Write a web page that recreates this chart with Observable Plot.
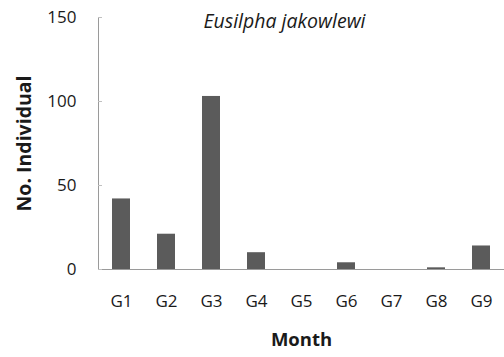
<!DOCTYPE html>
<html>
<head>
<meta charset="utf-8">
<script src="https://cdn.jsdelivr.net/npm/d3@7"></script>
<script src="https://cdn.jsdelivr.net/npm/@observablehq/plot@0.6"></script>
<style>
  html, body { margin: 0; padding: 0; background: #fff; }
  svg { display: block; }
</style>
</head>
<body>
<div id="chart"></div>
<script>
// Monthly catches of Eusilpha jakowlewi per group
const groups = ["G1", "G2", "G3", "G4", "G5", "G6", "G7", "G8", "G9"];
const counts = [42, 21, 103, 10, 0, 4, 0, 1, 14];
const yTicks = [0, 50, 100, 150];
const title = "Eusilpha jakowlewi";
const xTitle = "Month";
const yTitle = "No. Individual";

const data = groups.map((g, i) => ({group: g, count: counts[i]}));
const font = "'Open Sans', 'DejaVu Sans', sans-serif";

const chart = Plot.plot({
  width: 504,
  height: 357,
  marginLeft: 98,
  marginRight: 0,
  marginTop: 17,
  marginBottom: 88,
  style: {fontFamily: font, fontSize: "17px", color: "#1a1a1a", background: "#fff"},
  x: {domain: groups, paddingInner: 0.61, paddingOuter: 0.305, label: null},
  y: {domain: [0, 150], label: null},
  marks: [
    Plot.barY(data, {x: "group", y: "count", fill: "#5b5b5b"}),
    Plot.frame({anchor: "left", stroke: "#9a9a9a"}),
    Plot.ruleY([0], {stroke: "#9a9a9a"}),
    Plot.axisY(yTicks, {
      tickSize: -4, tickPadding: 26, stroke: "#c0c0c0",
      fontSize: 17, fill: "#1a1a1a", label: null
    }),
    Plot.axisX({
      tickSize: 0, tickPadding: 25, fontSize: 17, fill: "#1a1a1a", label: null
    }),
    Plot.text([title], {
      frameAnchor: "top", text: d => d, dx: -17, dy: 4,
      lineAnchor: "middle", textAnchor: "middle",
      fontSize: 19.5, fontStyle: "italic", fill: "#1a1a1a"
    }),
    Plot.text([xTitle], {
      frameAnchor: "bottom", text: d => d, dy: 71,
      lineAnchor: "middle", textAnchor: "middle",
      fontSize: 18.5, fontWeight: "bold", fill: "#1a1a1a"
    }),
    Plot.text([yTitle], {
      frameAnchor: "left", text: d => d, dx: -74, rotate: -90,
      lineAnchor: "middle", textAnchor: "middle",
      fontSize: 19.5, fontWeight: "bold", fill: "#1a1a1a"
    })
  ]
});
document.getElementById("chart").append(chart);
</script>
</body>
</html>
